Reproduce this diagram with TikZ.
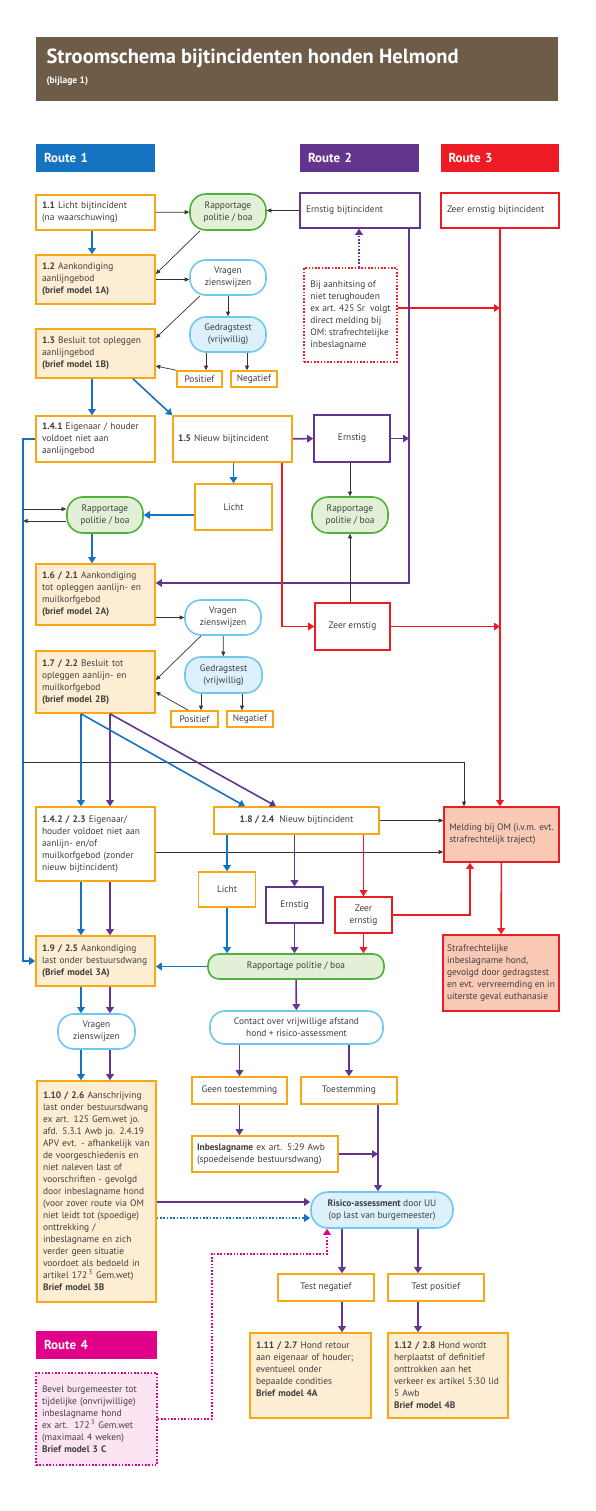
\documentclass[tikz,border=0pt]{standalone}
\usepackage{fontspec}
\setmainfont{PT Sans}
\usetikzlibrary{arrows.meta}
\definecolor{rblue}{RGB}{21,115,193}
\definecolor{rpurple}{RGB}{99,53,143}
\definecolor{rred}{RGB}{237,28,36}
\definecolor{rmag}{RGB}{224,0,138}
\definecolor{rbrown}{RGB}{110,92,72}
\definecolor{bord}{RGB}{247,168,20}
\definecolor{peach}{RGB}{253,238,211}
\definecolor{salmon}{RGB}{249,201,182}
\definecolor{pgreen}{RGB}{80,176,60}
\definecolor{lgreen}{RGB}{226,240,216}
\definecolor{pblue}{RGB}{112,200,240}
\definecolor{lblue}{RGB}{220,241,251}
\definecolor{lpink}{RGB}{252,228,242}
\definecolor{txt}{RGB}{62,62,62}
\newcommand{\fs}{\fontsize{9.4}{12}\selectfont}

\begin{document}
\begin{tikzpicture}[x=1pt,y=-1pt,font=\fs,text=txt,
    box/.style={draw=bord,line width=1.6pt,fill=white,inner xsep=6pt,inner ysep=2pt},
    peachbox/.style={box,fill=peach},
    lbox/.style={align=left},
    cbox/.style={align=center,inner sep=1pt},
    pill/.style={line width=1.6pt,align=center,inner sep=1pt,rounded corners=#1},
    greenpill/.style={pill=#1,draw=pgreen,fill=lgreen},
    bluepill/.style={pill=#1,draw=pblue,fill=white},
    testpill/.style={pill=#1,draw=pblue,fill=lblue},
    route/.style={text=white,font=\bfseries\fontsize{13}{15}\selectfont,align=left,inner xsep=8pt,minimum height=28pt},
    dik/.style={line width=1.6pt,-{Triangle[length=6pt,width=7.5pt]}},
    lijn/.style={black!80,line width=0.7pt,-{Triangle[length=4.5pt,width=4pt]}},
    dots/.style={line width=1.6pt,dash pattern=on 1.6pt off 1.7pt},
    dotpijl/.style={dots,-{Triangle[length=6pt,width=7.5pt]}}]
    \useasboundingbox (0,0) rectangle (595,1511);

    % kop
    \node[fill=rbrown,minimum width=522pt,minimum height=64pt,inner sep=0pt] (head) at (297,69) {};
    \node[anchor=west,text=white,font=\bfseries\fontsize{20.5}{24}\selectfont] (title) at (43,58) {Stroomschema bijtincidenten honden Helmond};
    \node[anchor=west,text=white,font=\bfseries\fontsize{9.5}{11}\selectfont] (sub) at (43,81) {(bijlage 1)};

    \node[route,fill=rblue,text width=103pt] (r1) at (95.5,158) {Route 1};
    \node[route,fill=rpurple,text width=103pt] (r2) at (359.5,158) {Route 2};
    \node[route,fill=rred,text width=102pt] (r3) at (499.5,158) {Route 3};

    % route 1
    \node[box,lbox,text width=107pt,minimum height=35pt] (b11) at (95.5,212.5) {\textbf{1.1} Licht bijtincident\\(na waarschuwing)};
    \node[greenpill=16pt,minimum width=76pt,minimum height=36pt] (rap1) at (228,212) {Rapportage\\politie / boa};
    \node[box,draw=rpurple,lbox,text width=108pt,minimum height=35pt] (ern) at (360,210.5) {Ernstig bijtincident};
    \node[box,draw=rred,lbox,text width=106pt,minimum height=35pt] (zeer) at (500,210.5) {Zeer ernstig bijtincident};
    \node[peachbox,lbox,text width=107pt,minimum height=49pt] (b12) at (95.5,279.5) {\textbf{1.2} Aankondiging\\aanlijngebod\\\textbf{(brief model 1A)}};
    \node[bluepill=16pt,minimum width=76pt,minimum height=35pt] (vr1) at (228,277.5) {Vragen\\zienswijzen};
    \node[box,draw=rred,dots,lbox,inner xsep=2pt,minimum width=93pt,minimum height=94pt] (aanh) at (350.5,315) {Bij aanhitsing of\\niet terughouden\\ex art. 425 Sr\ \ volgt\\direct melding bij\\OM: strafrechtelijke\\inbeslagname};
    \node[peachbox,lbox,text width=107pt,minimum height=49pt] (b13) at (95.5,353.5) {\textbf{1.3} Besluit tot opleggen\\aanlijngebod\\\textbf{(brief model 1B)}};
    \node[testpill=16pt,minimum width=76pt,minimum height=35pt] (gt1) at (228,334.5) {Gedragstest\\(vrijwillig)};
    \node[box,cbox,minimum width=45pt,minimum height=16pt] (pos1) at (199.5,379) {Positief};
    \node[box,cbox,minimum width=46pt,minimum height=16pt] (neg1) at (254,379) {Negatief};

    \node[box,lbox,text width=107pt,minimum height=46pt] (b141) at (95.5,439) {\textbf{1.4.1} Eigenaar / houder\\voldoet niet aan\\aanlijngebod};
    \node[box,lbox,inner xsep=5pt,text width=109pt,minimum height=46pt] (b15) at (232.5,439) {\textbf{1.5} Nieuw bijtincident};
    \node[box,draw=rpurple,cbox,minimum width=76pt,minimum height=47pt] (ern2) at (352,438.5) {Ernstig};
    \node[box,cbox,minimum width=77pt,minimum height=46pt] (licht1) at (233.5,507) {Licht};
    \node[greenpill=16pt,minimum width=76pt,minimum height=36pt] (rap2) at (105,515) {Rapportage\\politie / boa};
    \node[greenpill=16pt,minimum width=76pt,minimum height=36pt] (rap3) at (350,515) {Rapportage\\politie / boa};

    % route 2
    \node[peachbox,lbox,text width=107pt,minimum height=61pt] (b16) at (95.5,594.5) {\textbf{1.6 / 2.1} Aankondiging\\tot opleggen aanlijn- en\\muilkorfgebod\\\textbf{(brief model 2A)}};
    \node[box,draw=rred,cbox,minimum width=75pt,minimum height=47pt] (zeer2) at (352.5,626.5) {Zeer ernstig};
    \node[bluepill=16pt,minimum width=76pt,minimum height=35pt] (vr2) at (223,617.5) {Vragen\\zienswijzen};
    \node[testpill=16pt,minimum width=77pt,minimum height=36pt] (gt2) at (223.5,675) {Gedragstest\\(vrijwillig)};
    \node[peachbox,lbox,text width=107pt,minimum height=62pt] (b17) at (95.5,682) {\textbf{1.7 / 2.2} Besluit tot\\opleggen aanlijn- en\\muilkorfgebod\\\textbf{(brief model 2B)}};
    \node[box,cbox,minimum width=47pt,minimum height=16pt] (pos2) at (194.5,719) {Positief};
    \node[box,cbox,minimum width=46pt,minimum height=16pt] (neg2) at (250,719) {Negatief};

    \node[box,lbox,text width=107pt,minimum height=74pt] (b142) at (95.5,844) {\textbf{1.4.2 / 2.3} Eigenaar/\\houder voldoet niet aan\\aanlijn- en/of\\muilkorfgebod (zonder\\nieuw bijtincident)};
    \node[box,cbox,minimum width=165pt,minimum height=27pt] (b18) at (296.5,820.5) {\textbf{1.8 / 2.4}\ \ Nieuw bijtincident};
    \node[box,draw=rred,fill=salmon,lbox,inner xsep=2pt,minimum width=115pt,minimum height=55pt] (melding) at (501.5,834.5) {Melding bij OM (i.v.m. evt.\\strafrechtelijk traject)};
    \node[box,cbox,minimum width=57pt,minimum height=35pt] (licht2) at (227,889.5) {Licht};
    \node[box,draw=rpurple,cbox,minimum width=57pt,minimum height=36pt] (ern3) at (294.5,905) {Ernstig};
    \node[box,draw=rred,cbox,minimum width=57pt,minimum height=36pt] (zeer3) at (363.5,915) {Zeer\\ernstig};
    \node[box,draw=rred,fill=salmon,lbox,inner xsep=2pt,minimum width=116pt,minimum height=76pt] (straf) at (501,973) {Strafrechtelijke\\inbeslagname hond,\\gevolgd door gedragstest\\en evt. vervreemding en in\\uiterste geval euthanasie};
    \node[greenpill=11pt,minimum width=176pt,minimum height=25pt] (rap4) at (296,966.5) {Rapportage politie / boa};
    \node[peachbox,lbox,text width=107pt,minimum height=50pt] (b19) at (95.5,961) {\textbf{1.9 / 2.5} Aankondiging\\last onder bestuursdwang\\\textbf{(Brief model 3A)}};

    \node[bluepill=16pt,minimum width=77pt,minimum height=35pt] (vr3) at (96.5,1031.5) {Vragen\\zienswijzen};
    \node[bluepill=15pt,minimum width=173pt,minimum height=33pt] (contact) at (296.5,1027.5) {Contact over vrijwillige afstand\\hond + risico-assessment};
    \node[box,cbox,minimum width=95pt,minimum height=27pt] (geen) at (239.5,1090.5) {Geen toestemming};
    \node[box,cbox,minimum width=96pt,minimum height=27pt] (toest) at (349,1090.5) {Toestemming};
    \node[box,lbox,inner xsep=5pt,text width=136pt,minimum height=36pt] (inbesl) at (265,1154) {\textbf{Inbeslagname} ex art. 5:29 Awb\\(spoedeisende bestuursdwang)};
    \node[peachbox,lbox,text width=107pt,minimum height=221pt] (b110) at (96.5,1191.5) {\textbf{1.10 / 2.6} Aanschrijving\\last onder bestuursdwang\\ex art. 125 Gem.wet jo.\\afd. 5.3.1 Awb jo. 2.4.19\\APV evt. - afhankelijk van\\de voorgeschiedenis en\\niet naleven last of\\voorschriften - gevolgd\\door inbeslagname hond\\(voor zover route via OM\\niet leidt tot (spoedige)\\onttrekking /\\inbeslagname en zich\\verder geen situatie\\voordoet als bedoeld in\\artikel 172\,\textsuperscript{3} Gem.wet)\\\textbf{Brief model 3B}};
    \node[testpill=17pt,minimum width=142pt,minimum height=36pt] (risico) at (382,1210) {\textbf{Risico-assessment} door UU\\(op last van burgemeester)};
    \node[box,cbox,minimum width=96pt,minimum height=27pt] (testneg) at (326,1287.5) {Test negatief};
    \node[box,cbox,minimum width=96pt,minimum height=27pt] (testpos) at (436,1287.5) {Test positief};
    \node[peachbox,lbox,text width=109pt,minimum height=85pt] (b111) at (310.5,1375.5) {\textbf{1.11 / 2.7} Hond retour\\aan eigenaar of houder;\\eventueel onder\\bepaalde condities\\\textbf{Brief model 4A}\\\mbox{}};
    \node[peachbox,lbox,text width=108pt,minimum height=85pt] (b112) at (448,1375.5) {\textbf{1.12 / 2.8} Hond wordt\\herplaatst of definitief\\onttrokken aan het\\verkeer ex artikel 5:30 lid\\5 Awb\\\textbf{Brief model 4B}};

    % route 4
    \node[route,fill=rmag,text width=105pt] (r4) at (96.5,1345) {Route 4};
    \node[box,draw=rmag,fill=lpink,dots,lbox,text width=109pt,minimum height=92pt] (r4box) at (96.5,1419) {Bevel burgemeester tot\\tijdelijke (onvrijwillige)\\inbeslagname hond\\ex art.\ \ 172\,\textsuperscript{3} Gem.wet\\(maximaal 4 weken)\\\textbf{Brief model 3 C}};

    % verbindingen boven
    \coordinate (bx) at ([xshift=-12pt]b141.west);
    \coordinate (pv) at ([xshift=49pt]ern.south);
    \draw[lijn] (b11) -- (rap1);
    \draw[lijn] (ern.west) -- (ern.west -| rap1.east);
    \draw[dik,rblue] ([xshift=-3.5pt]b11.south) -- ([xshift=-3.5pt]b12.north);
    \draw[lijn] ([xshift=-28pt]rap1.south) -- ([yshift=5.5pt]b12.east);
    \draw[lijn] (b12.east) -- (b12.east -| vr1.west);
    \draw[lijn] ([xshift=-28pt]vr1.south) -- ([yshift=15.5pt]b13.east);
    \draw[lijn] (vr1) -- (gt1);
    \coordinate (g1a) at ([xshift=-22pt]gt1.south);
    \coordinate (g1b) at ([xshift=19pt]gt1.south);
    \draw[lijn] (g1a) -- (g1a |- pos1.north);
    \draw[lijn] (g1b) -- (g1b |- neg1.north);
    \draw[lijn] (pos1.north west) -- ([yshift=-12.5pt]b13.east);

    \draw[dik,rblue] ([xshift=-3.5pt]b13.south) -- ([xshift=-3.5pt]b141.north);
    \draw[dik,rblue] ([xshift=37.5pt]b13.south) -- (b15.north west);
    \coordinate (ad) at ([xshift=8.5pt]aanh.north);
    \draw[dotpijl,rpurple] (ad) -- (ad |- ern.south);
    \coordinate (ar) at ([yshift=7pt]aanh.east);
    \draw[dik,rred] (ar) -- (ar -| zeer.south);
    \draw[dik,rpurple] (pv) |- ([yshift=11.5pt]b16.east);
    \draw[dik,rred] (zeer.south) -- (zeer.south |- melding.north);

    \draw[dik,rpurple] (b15) -- (ern2);
    \draw[dik,rpurple] (ern2.east) -- (ern2.east -| pv);
    \draw[dik,rblue] (b15.south -| licht1.north) -- (licht1.north);
    \draw[dik,rred] ([xshift=49.5pt]b15.south) |- (zeer2.west);
    \draw[lijn] (ern2.south -| rap3.north) -- (rap3.north);
    \draw[lijn] (zeer2.north -| rap3.south) -- (rap3.south);
    \draw[dik,rred] (zeer2.east) -- (zeer2.east -| zeer.south);
    \draw[dik,rblue] (licht1.west |- rap2.east) -- (rap2.east);
    \draw[dik,rblue] ([xshift=-13pt]rap2.south) -- ([xshift=-3.5pt]b16.north);

    \draw[dik,rblue] (b141.west) -- (bx) |- (b19.west);
    \coordinate (r2a) at ([yshift=6pt]rap2.west);
    \coordinate (r2b) at ([yshift=-6pt]rap2.west);
    \draw[lijn] (r2a -| bx) -- (r2a);
    \draw[lijn] (r2b) -- (r2b -| bx);
    \coordinate (om) at ([yshift=-323pt]bx);
    \draw[lijn] (om) -| ([xshift=-37.5pt]melding.north);

    % route 2
    \draw[lijn] (b16.east |- vr2.west) -- (vr2.west);
    \draw[lijn] ([xshift=-22pt]vr2.south) -- ([yshift=2pt]b17.east);
    \draw[lijn] (vr2) -- (gt2);
    \coordinate (g2a) at ([xshift=-22.5pt]gt2.south);
    \coordinate (g2b) at ([xshift=18.5pt]gt2.south);
    \draw[lijn] (g2a) -- (g2a |- pos2.north);
    \draw[lijn] (g2b) -- (g2b |- neg2.north);
    \draw[lijn] ([xshift=18pt]pos2.north west) -- ([yshift=-10pt]b17.east);

    \draw[dik,rblue] ([xshift=-14.5pt]b17.south) -- ([xshift=-14.5pt]b142.north);
    \draw[dik,rpurple] ([xshift=14.5pt]b17.south) -- ([xshift=14.5pt]b142.north);
    \draw[dik,rblue] ([xshift=-14.5pt]b17.south) -- ([xshift=-51.5pt]b18.north);
    \draw[dik,rpurple] ([xshift=14.5pt]b17.south) -- ([xshift=-20.5pt]b18.north);

    \draw[lijn] (b18.east) -- (b18.east -| melding.west);
    \coordinate (m2) at ([yshift=-8pt]b142.east);
    \draw[lijn] (m2) -- (m2 -| melding.west);
    \draw[dik,rblue] (b18.south -| licht2.north) -- (licht2.north);
    \draw[dik,rpurple] (b18.south -| ern3.north) -- (ern3.north);
    \draw[dik,rred] (b18.south -| zeer3.north) -- (zeer3.north);
    \draw[dik,rred] (zeer3.east) -| ([xshift=-31.5pt]melding.south);
    \draw[dik,rred] (melding) -- (straf);
    \draw[dik,rblue] (licht2) -- (licht2 |- rap4.north);
    \draw[dik,rpurple] (ern3) -- (ern3 |- rap4.north);
    \draw[dik,rred] (zeer3) -- (zeer3 |- rap4.north);
    \draw[dik,rblue] (rap4.west) -- (rap4.west -| b19.east);
    \draw[dik,rblue] ([xshift=-14.5pt]b142.south) -- ([xshift=-14.5pt]b19.north);
    \draw[dik,rpurple] ([xshift=14.5pt]b142.south) -- ([xshift=14.5pt]b19.north);
    \draw[dik,rpurple] (rap4) -- (contact);

    % onder
    \coordinate (v3a) at ([xshift=-14.5pt]b19.south);
    \coordinate (v3b) at ([xshift=14.5pt]b19.south);
    \draw[dik,rblue] (v3a) -- (v3a |- vr3.north);
    \draw[dik,rpurple] (v3b) -- (v3b |- vr3.north);
    \draw[dik,rblue] (v3a |- vr3.south) -- (v3a |- b110.north);
    \draw[dik,rpurple] (v3b |- vr3.south) -- (v3b |- b110.north);
    \draw[dik,rpurple] (contact.south -| geen.north) -- (geen.north);
    \draw[dik,rpurple] (contact.south -| toest.north) -- (toest.north);
    \draw[dik,rpurple] (geen) -- (geen |- inbesl.north);
    \coordinate (tv) at ([xshift=29pt]toest.south);
    \draw[dik,rpurple] (tv) -- (tv |- risico.north);
    \draw[dik,rpurple] (inbesl.east) -- (inbesl.east -| tv);
    \coordinate (ra) at ([yshift=8pt]risico.west);
    \coordinate (rb) at ([yshift=-8pt]risico.west);
    \draw[dik,rpurple] (ra -| b110.east) -- (ra);
    \draw[dotpijl,rblue] (rb -| b110.east) -- (rb);
    \coordinate (ta) at ([xshift=-40pt]risico.south);
    \coordinate (tb) at ([xshift=36pt]risico.south);
    \draw[dik,rpurple] (ta) -- (ta |- testneg.north);
    \draw[dik,rpurple] (tb) -- (tb |- testpos.north);
    \draw[dik,rpurple] (ta |- testneg.south) -- (ta |- b111.north);
    \draw[dik,rpurple] (tb |- testpos.south) -- (tb |- b112.north);
    \coordinate (rm) at ([xshift=-55pt]risico.south);
    \draw[dotpijl,rmag] (r4box.east) -- ++(54,0) |- ([yshift=-25pt]rm) -- (rm);
\end{tikzpicture}
\end{document}
